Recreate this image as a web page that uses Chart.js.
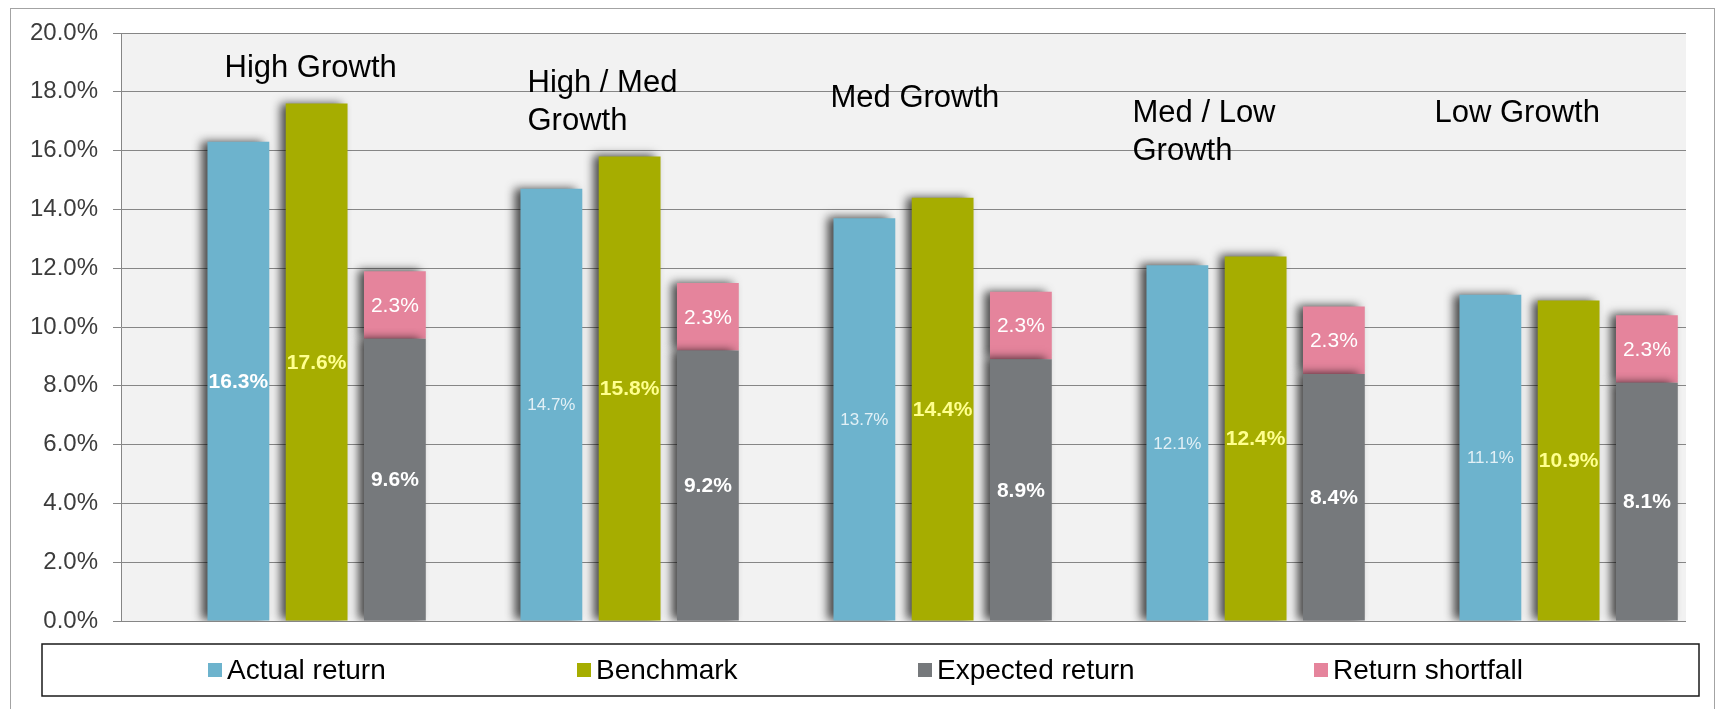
<!DOCTYPE html>
<html lang="en">
<head>
<meta charset="UTF-8">
<title>Returns by Growth Profile</title>
<script src="https://cdn.jsdelivr.net/npm/chart.js"></script>
<style>
    html, body { margin: 0; padding: 0; background: #ffffff; }
    #wrap { width: 1717px; height: 709px; }
</style>
</head>
<body>
<div id="wrap"><canvas id="returnsChart" width="1717" height="709"></canvas></div>
<script>
    // Data
    const categories = [['High Growth'], ['High / Med', 'Growth'], ['Med Growth'], ['Med / Low', 'Growth'], ['Low Growth']];
    const actualReturn = [16.3, 14.7, 13.7, 12.1, 11.1];
    const benchmark = [17.6, 15.8, 14.4, 12.4, 10.9];
    const expectedReturn = [9.6, 9.2, 8.9, 8.4, 8.1];
    const returnShortfall = [2.3, 2.3, 2.3, 2.3, 2.3];
    const emptySlot = [null, null, null, null, null];
    const yMin = 0, yMax = 20, yStep = 2;

    const seriesNames = ['Actual return', 'Benchmark', 'Expected return', 'Return shortfall'];
    const seriesColors = ['#6db3cd', '#a6ad00', '#76797c', '#e5849c'];

    // Fonts / layout
    const FONT = '"Liberation Sans", Arial, sans-serif';
    const labelFonts = {
        actual: { weight: 'normal', size: 17, color: '#e2f0f6' },
        actualFirst: { weight: 'bold', size: 21, color: '#ffffff' },
        benchmark: { weight: 'bold', size: 21, color: '#ffff8e' },
        expected: { weight: 'bold', size: 21, color: '#ffffff' },
        shortfall: { weight: 'normal', size: 21, color: '#ffffff' }
    };
    // group titles: x offset from category centre, baseline below plot top
    const titleLayout = [
        { dx: -53, top: 44 },
        { dx: -63, top: 59 },
        { dx: -73, top: 74 },
        { dx: -84, top: 89 },
        { dx: -95, top: 89 }
    ];
    const legendBox = { left: 42, top: 644, right: 1699, bottom: 696 };
    const legendX = [208, 577, 918, 1314];

    const plotBackground = {
        id: 'plotBackground',
        beforeDraw(chart) {
            const { ctx, chartArea: a } = chart;
            ctx.save();
            ctx.fillStyle = '#ffffff';
            ctx.fillRect(0, 0, chart.width, chart.height);
            ctx.fillStyle = '#f2f2f2';
            ctx.fillRect(a.left, a.top, a.right - a.left, a.bottom - a.top);
            ctx.strokeStyle = '#a3a3a3';
            ctx.lineWidth = 1;
            ctx.strokeRect(10.5, 8.5, 1704, 720);
            ctx.restore();
        }
    };

    // soft drop shadow to the left of every bar
    const barShadow = {
        id: 'barShadow',
        beforeDatasetsDraw(chart) {
            const ctx = chart.ctx;
            ctx.save();
            ctx.shadowColor = 'rgba(0, 0, 0, 0.7)';
            ctx.shadowBlur = 9;
            ctx.shadowOffsetX = -6;
            ctx.shadowOffsetY = -1;
        },
        afterDatasetsDraw(chart) {
            chart.ctx.restore();
        }
    };

    const valueLabels = {
        id: 'valueLabels',
        afterDatasetsDraw(chart) {
            const ctx = chart.ctx;
            ctx.save();
            ctx.textAlign = 'center';
            ctx.textBaseline = 'middle';
            chart.data.datasets.forEach((ds, di) => {
                if (!ds.labelStyle) return;
                const meta = chart.getDatasetMeta(di);
                meta.data.forEach((bar, i) => {
                    const v = ds.data[i];
                    if (v == null) return;
                    let st = labelFonts[ds.labelStyle];
                    if (ds.labelStyle === 'actual' && i === 0) st = labelFonts.actualFirst;
                    ctx.font = `${st.weight} ${st.size}px ${FONT}`;
                    ctx.fillStyle = st.color;
                    ctx.fillText(v.toFixed(1) + '%', bar.x, (bar.y + bar.base) / 2 + 1);
                });
            });
            ctx.restore();
        }
    };

    const groupTitles = {
        id: 'groupTitles',
        afterDraw(chart) {
            const { ctx, chartArea } = chart;
            const x = chart.scales.x;
            ctx.save();
            ctx.font = `31px ${FONT}`;
            ctx.fillStyle = '#000000';
            ctx.textAlign = 'left';
            ctx.textBaseline = 'alphabetic';
            categories.forEach((lines, i) => {
                const cx = x.getPixelForValue(i) + titleLayout[i].dx;
                lines.forEach((line, k) => {
                    ctx.fillText(line, cx, chartArea.top + titleLayout[i].top + k * 38);
                });
            });
            ctx.restore();
        }
    };

    const boxLegend = {
        id: 'boxLegend',
        afterDraw(chart) {
            const ctx = chart.ctx;
            const b = legendBox;
            ctx.save();
            ctx.strokeStyle = '#1a1a1a';
            ctx.lineWidth = 1.5;
            ctx.strokeRect(b.left, b.top, b.right - b.left, b.bottom - b.top);
            const cy = (b.top + b.bottom) / 2;
            ctx.font = `28px ${FONT}`;
            ctx.textBaseline = 'middle';
            ctx.textAlign = 'left';
            seriesNames.forEach((name, i) => {
                ctx.fillStyle = seriesColors[i];
                ctx.fillRect(legendX[i], cy - 7, 14, 14);
                ctx.fillStyle = '#000000';
                ctx.fillText(name, legendX[i] + 19, cy + 1);
            });
            ctx.restore();
        }
    };

    const ctx = document.getElementById('returnsChart').getContext('2d');
    new Chart(ctx, {
        type: 'bar',
        data: {
            labels: categories,
            datasets: [
                { label: '', data: emptySlot, stack: 'gap', backgroundColor: 'rgba(0,0,0,0)' },
                { label: seriesNames[0], data: actualReturn, stack: 'actual', backgroundColor: seriesColors[0], labelStyle: 'actual' },
                { label: seriesNames[1], data: benchmark, stack: 'benchmark', backgroundColor: seriesColors[1], labelStyle: 'benchmark' },
                { label: seriesNames[2], data: expectedReturn, stack: 'expected', backgroundColor: seriesColors[2], labelStyle: 'expected' },
                { label: seriesNames[3], data: returnShortfall, stack: 'expected', backgroundColor: seriesColors[3], labelStyle: 'shortfall' }
            ]
        },
        options: {
            responsive: false,
            animation: false,
            layout: { padding: { left: 0, top: 33, right: 31, bottom: 88 } },
            datasets: {
                bar: { categoryPercentage: 1.0, barPercentage: 0.79, borderWidth: 0 }
            },
            scales: {
                x: { display: false },
                y: {
                    stacked: true,
                    min: yMin,
                    max: yMax,
                    afterFit(scale) { scale.width = 121; },
                    ticks: {
                        stepSize: yStep,
                        padding: 15,
                        color: '#3c3c3c',
                        font: { family: FONT, size: 24 },
                        callback: v => v.toFixed(1) + '%'
                    },
                    grid: { color: '#868686', lineWidth: 1, tickLength: 8 },
                    border: { color: '#868686', width: 1 }
                }
            },
            plugins: {
                legend: { display: false },
                tooltip: { enabled: false }
            }
        },
        plugins: [plotBackground, barShadow, valueLabels, groupTitles, boxLegend]
    });
</script>
</body>
</html>
